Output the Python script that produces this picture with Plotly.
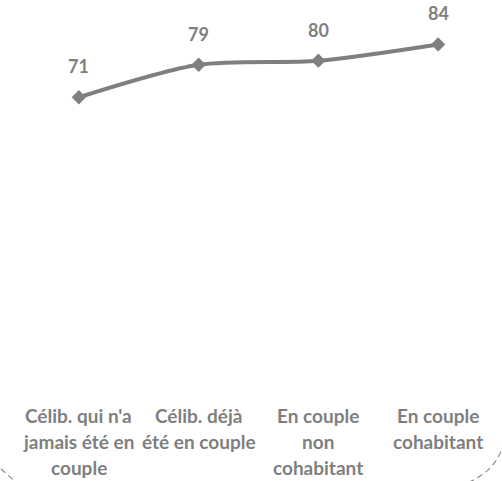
import plotly.graph_objects as go

categories = ["Célib. qui n'a jamais été en couple", "Célib. déjà été en couple",
              "En couple non cohabitant", "En couple cohabitant"]
values = [71, 79, 80, 84]
tick_lines = [["Célib. qui n'a", "jamais été en", "couple"],
              ["Célib. déjà", "été en couple"],
              ["En couple", "non", "cohabitant"],
              ["En couple", "cohabitant"]]

GRAY = "#7f7f7f"
FONT = "Lato"
W, H = 502, 481
ML, MR, MT, MB = 19, 4, 20, 95

fig = go.Figure()
fig.add_trace(go.Scatter(
    x=categories, y=values, mode="lines+markers",
    line=dict(color=GRAY, width=4, shape="spline", smoothing=0.8),
    marker=dict(symbol="diamond", size=11, color=GRAY),
    hoverinfo="skip", showlegend=False,
))

annotations = []
for c, v in zip(categories, values):
    annotations.append(dict(x=c, y=v, xref="x", yref="y", text=f"<b>{v}</b>",
                            showarrow=False, yshift=31,
                            font=dict(family=FONT, size=18, color=GRAY)))
for c, lines in zip(categories, tick_lines):
    for i, t in enumerate(lines):
        annotations.append(dict(x=c, y=0, xref="x", yref="paper", text=f"<b>{t}</b>",
                                showarrow=False, yanchor="middle", yshift=-29 - 26 * i,
                                font=dict(family=FONT, size=19, color=GRAY)))

pw, ph = W - ML - MR, H - MT - MB
def px(x, y):
    return f"{(x - ML) / pw:.4f},{(H - MB - y) / ph:.4f}"

shapes = [
    dict(type="path", xref="paper", yref="paper",
         path=f"M {px(504, 442)} Q {px(497, 472)} {px(464, 484)}",
         line=dict(color="#8c8c8c", width=1.2, dash="6px,4px")),
    dict(type="path", xref="paper", yref="paper",
         path=f"M {px(1, 469)} Q {px(9, 476)} {px(18, 484)}",
         line=dict(color="#8c8c8c", width=1.2, dash="6px,4px")),
]

fig.update_layout(
    width=W, height=H, margin=dict(l=ML, r=MR, t=MT, b=MB),
    paper_bgcolor="white", plot_bgcolor="white",
    xaxis=dict(range=[-0.5, 3.5], showticklabels=False, showgrid=False,
               zeroline=False, showline=False, ticks=""),
    yaxis=dict(range=[0, 90], visible=False, showgrid=False),
    annotations=annotations, shapes=shapes,
    font=dict(family=FONT, color=GRAY),
)
fig.write_html("out.html", config={"displayModeBar": False, "staticPlot": True},
               post_script="document.body.style.margin='0';document.body.style.overflow='hidden';")
